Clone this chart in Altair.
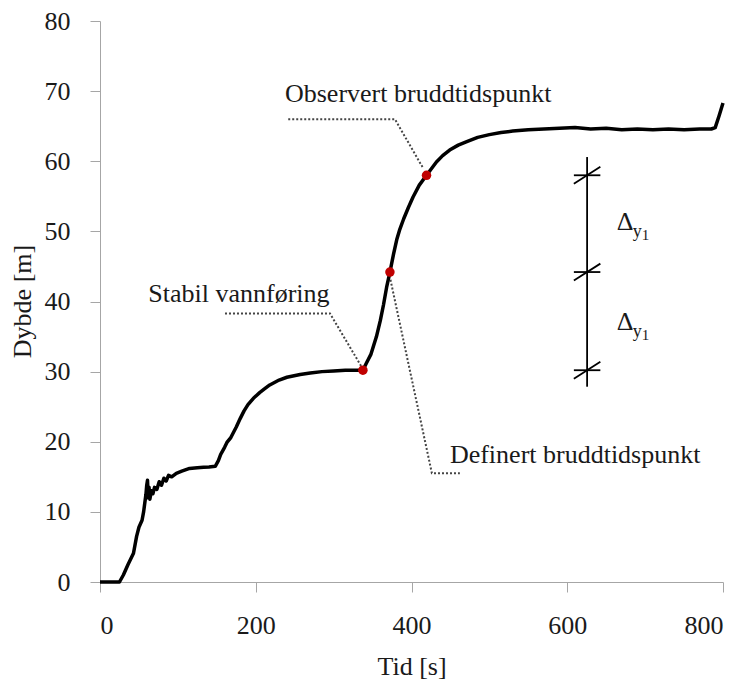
import altair as alt
import pandas as pd

# ---- data ----
t_values = [0, 25, 30, 36, 43, 47, 50, 54, 56, 59, 60, 61, 62, 63, 64, 66, 68, 70, 73, 76, 79,
            82, 85, 88, 92, 98, 105, 115, 125, 133, 140, 148, 152, 155, 160, 163, 168, 175,
            180, 185, 190, 197, 205, 212, 218, 230, 240, 257, 270, 285, 300, 315, 325, 337.6,
            342, 348, 355, 360, 364, 368, 372.3, 377, 381, 385, 390, 396, 402, 410, 419.3,
            426, 432, 440, 449, 460, 471, 485, 500, 515, 530, 550, 570, 590, 610, 630, 650,
            670, 690, 710, 730, 750, 770, 785, 790, 795, 800]
depth_values = [0, 0, 1.0, 2.5, 4.1, 6.5, 7.8, 8.8, 10.0, 12.5, 13.8, 14.5, 12.0, 13.5, 11.8,
                13.0, 12.6, 13.5, 13.2, 14.3, 13.8, 14.8, 14.4, 15.2, 15.0, 15.5, 15.8, 16.2,
                16.3, 16.35, 16.4, 16.5, 17.3, 18.2, 19.2, 19.9, 20.6, 22.1, 23.3, 24.4, 25.3,
                26.2, 27.0, 27.6, 28.1, 28.8, 29.2, 29.6, 29.8, 30.0, 30.1, 30.2, 30.2, 30.2,
                31.2, 32.5, 35.0, 37.3, 39.5, 42.0, 44.2, 46.8, 48.8, 50.3, 51.8, 53.4, 54.9,
                56.6, 58.0, 59.0, 59.9, 60.8, 61.6, 62.3, 62.8, 63.4, 63.8, 64.1, 64.3, 64.5,
                64.6, 64.7, 64.8, 64.6, 64.7, 64.5, 64.6, 64.5, 64.6, 64.5, 64.6, 64.6, 64.8,
                66.5, 68.3]

key_t = [337.6, 372.3, 419.3]
key_d = [30.2, 44.2, 58.0]

# leader lines (dotted)
leader_id = ["obs", "obs", "obs", "stab", "stab", "stab", "def", "def", "def"]
leader_order = [0, 1, 2, 0, 1, 2, 0, 1, 2]
leader_t = [241.7, 378.7, 415.0, 160.5, 295.3, 335.8, 373.0, 426.2, 462.1]
leader_d = [66.0, 66.0, 59.0, 38.3, 38.3, 30.7, 43.1, 15.5, 15.5]

label_text = ["Observert bruddtidspunkt", "Stabil vannføring", "Definert bruddtidspunkt"]
label_t = [237.5, 62.0, 449.3]
label_d = [68.5, 40.0, 16.9]

# Delta marker
marker_t = 625.5
marker_bottom = 27.85
marker_top = 60.6
marker_levels = [30.2, 44.2, 58.0]
tick_half = 17.0
slash_half = 1.2
delta_t = [663.5, 663.5]
delta_d = [50.2, 35.9]

FONT = "Liberation Serif"

curve = pd.DataFrame({"t": t_values, "d": depth_values})
keys = pd.DataFrame({"t": key_t, "d": key_d})
leaders = pd.DataFrame({"id": leader_id, "o": leader_order, "t": leader_t, "d": leader_d})
labels = pd.DataFrame({"text": label_text, "t": label_t, "d": label_d})
vert = pd.DataFrame({"t": [marker_t], "d": [marker_bottom], "d2": [marker_top]})
hticks = pd.DataFrame({"t": [marker_t - tick_half] * 3, "t2": [marker_t + tick_half] * 3,
                       "d": marker_levels})
slashes = pd.DataFrame({"t": [marker_t - tick_half] * 3, "t2": [marker_t + tick_half] * 3,
                        "d": [v - slash_half for v in marker_levels],
                        "d2": [v + slash_half for v in marker_levels]})
deltas = pd.DataFrame({"t": delta_t, "d": delta_d})

xs = alt.Scale(domain=[0, 800], nice=False)
ys = alt.Scale(domain=[0, 80], nice=False)

common_axis = dict(grid=False, tickSize=10,
                   labelFont=FONT, titleFont=FONT, labelFontSize=26, titleFontSize=26,
                   labelColor="#1a1a1a", titleColor="#1a1a1a", titleFontWeight="normal",
                   domainColor="#a6a6a6", tickColor="#a6a6a6", domainWidth=1, tickWidth=1)

xax = alt.Axis(values=[0, 200, 400, 600, 800], labelPadding=20,
               title="Tid [s]", titleY=84, titleBaseline="middle", **common_axis)
yax = alt.Axis(values=list(range(0, 81, 10)), labelPadding=20,
               title="Dybde [m]", titleX=-78, titleY=280, titleAngle=270,
               titleAlign="center", titleBaseline="middle", **common_axis)

base_x = alt.X("t:Q", scale=xs, axis=xax)
base_y = alt.Y("d:Q", scale=ys, axis=yax)

line = alt.Chart(curve).mark_line(color="black", strokeWidth=3.5, strokeJoin="round").encode(
    x=base_x, y=base_y)

lead = alt.Chart(leaders).mark_line(color="#444444", strokeWidth=2, strokeDash=[2, 2]).encode(
    x="t:Q", y="d:Q", detail="id:N", order="o:Q")

pts = alt.Chart(keys).mark_point(filled=True, color="#C00000", size=90, opacity=1).encode(
    x="t:Q", y="d:Q")

vline = alt.Chart(vert).mark_rule(color="black", strokeWidth=1.8).encode(
    x="t:Q", y="d:Q", y2="d2:Q")
hline = alt.Chart(hticks).mark_rule(color="black", strokeWidth=1.8).encode(
    x="t:Q", x2="t2:Q", y="d:Q")
sline = alt.Chart(slashes).mark_rule(color="black", strokeWidth=1.8).encode(
    x="t:Q", x2="t2:Q", y="d:Q", y2="d2:Q")

txt = alt.Chart(labels).mark_text(font=FONT, fontSize=26, align="left", baseline="alphabetic",
                                  color="#1a1a1a").encode(x="t:Q", y="d:Q", text="text:N")

dtxt = alt.Chart(deltas).mark_text(font=FONT, fontSize=26, align="left", baseline="alphabetic",
                                   color="#1a1a1a", text="Δ").encode(x="t:Q", y="d:Q")
ytxt = alt.Chart(deltas).mark_text(font=FONT, fontSize=18, align="left", baseline="alphabetic",
                                   color="#1a1a1a", text="y", dx=16, dy=7).encode(x="t:Q", y="d:Q")
otxt = alt.Chart(deltas).mark_text(font=FONT, fontSize=15, align="left", baseline="alphabetic",
                                   color="#1a1a1a", text="1", dx=25, dy=10).encode(x="t:Q", y="d:Q")

chart = alt.layer(lead, line, pts, vline, hline, sline, txt, dtxt, ytxt, otxt).properties(
    width=623, height=561,
    autosize=alt.AutoSizeParams(type="none"),
    padding={"left": 100, "top": 21, "right": 21, "bottom": 107},
    background="white",
).configure_view(stroke=None)

chart.save("out.html", embed_options={"renderer": "svg", "actions": False})
